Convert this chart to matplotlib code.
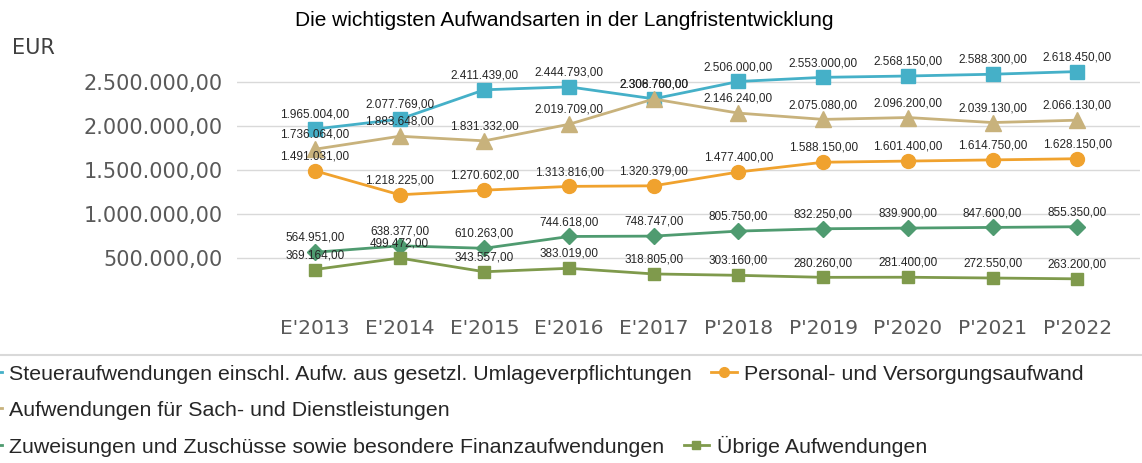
import matplotlib.pyplot as plt
from matplotlib.lines import Line2D

plt.rcParams['font.family'] = ['Liberation Sans', 'DejaVu Sans']

years = ["E'2013", "E'2014", "E'2015", "E'2016", "E'2017",
         "P'2018", "P'2019", "P'2020", "P'2021", "P'2022"]

steuer = [1965004, 2077769, 2411439, 2444793, 2308760,
          2506000, 2553000, 2568150, 2588300, 2618450]
personal = [1491031, 1218225, 1270602, 1313816, 1320379,
            1477400, 1588150, 1601400, 1614750, 1628150]
sach = [1736064, 1883648, 1831332, 2019709, 2306700,
        2146240, 2075080, 2096200, 2039130, 2066130]
zuweis = [564951, 638377, 610263, 744618, 748747,
          805750, 832250, 839900, 847600, 855350]
uebrige = [369164, 499472, 343557, 383019, 318805,
           303160, 280260, 281400, 272550, 263200]

names = ["Steueraufwendungen einschl. Aufw. aus gesetzl. Umlageverpflichtungen",
         "Personal- und Versorgungsaufwand",
         "Aufwendungen für Sach- und Dienstleistungen",
         "Zuweisungen und Zuschüsse sowie besondere Finanzaufwendungen",
         "Übrige Aufwendungen"]
yticks = [500000, 1000000, 1500000, 2000000, 2500000]


def de_fmt(v):
    s = f"{v:,.2f}"
    return s.replace(",", "X").replace(".", ",").replace("X", ".")


fig = plt.figure(figsize=(11.42, 4.63), dpi=100)
ax = fig.add_axes([237 / 1142, 161 / 463, (1140 - 237) / 1142, 242 / 463])

series = [
    (steuer, '#45b0c8', 's', 10),
    (personal, '#f0a22e', 'o', 10),
    (sach, '#c8b27c', '^', 11),
    (zuweis, '#4f9b70', 'D', 8),
    (uebrige, '#7f9a4c', 's', 9),
]
x = list(range(len(years)))
handles = []
for (vals, col, mk, ms), name in zip(series, names):
    ln, = ax.plot(x, vals, color=col, lw=2, marker=mk, ms=ms, zorder=3, label=name)
    handles.append(ln)
    for xi, v in zip(x, vals):
        ax.annotate(de_fmt(v), (xi, v), xytext=(0, 6), textcoords='offset points',
                    ha='center', va='bottom', fontsize=8.5, color='#262626', zorder=4)

ax.set_xlim(-0.92, 9.74)
ax.set_ylim(0, 2750000)
ax.set_yticks(yticks)
ax.set_yticklabels([de_fmt(v) for v in yticks], fontsize=15, color='#595959',
                   family=['DejaVu Sans'])
ax.set_xticks(x)
ax.set_xticklabels(years, fontsize=14.5, color='#595959', family=['DejaVu Sans'])
ax.tick_params(axis='both', length=0)
ax.tick_params(axis='x', pad=12)
ax.tick_params(axis='y', pad=10.5)
ax.grid(axis='y', color='#d9d9d9', lw=1)
ax.set_axisbelow(True)
for sp in ax.spines.values():
    sp.set_visible(False)

fig.text(564 / 1142, 1 - 20 / 463, "Die wichtigsten Aufwandsarten in der Langfristentwicklung",
         ha='center', va='center', fontsize=15, color='#000000')
fig.text(12 / 1142, 1 - 48 / 463, "EUR", ha='left', va='center', fontsize=15,
         color='#404040', family=['DejaVu Sans'])

fig.add_artist(Line2D([0, 1], [1 - 355 / 463] * 2, color='#d9d9d9', lw=1.5))

rows = [([0, 1], 374), ([2], 410), ([3, 4], 446)]
for idx, ypix in rows:
    fig.legend([handles[i] for i in idx], [names[i] for i in idx],
               loc='center left', bbox_to_anchor=(-24 / 1142, 1 - ypix / 463),
               ncol=len(idx), frameon=False, fontsize=15.4, borderpad=0, borderaxespad=0,
               handlelength=1.2, handletextpad=0.35, columnspacing=0.9,
               markerscale=0.7, labelcolor='#262626')

fig.savefig('out.png', dpi=100)
